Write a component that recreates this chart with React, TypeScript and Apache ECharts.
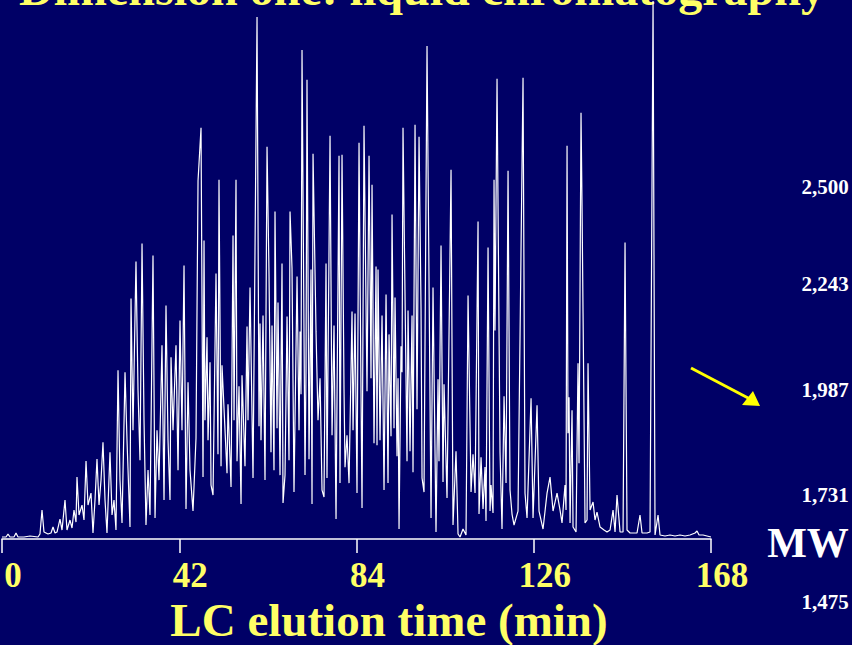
import React, { useEffect, useRef } from "react";
import * as echarts from "echarts";

const FONT = "'Liberation Serif', 'Times New Roman', Times, serif";

const titleText = "Dimension one: liquid chromatography";
const xAxisTitle = "LC elution time (min)";
const timeTicks = [0, 42, 84, 126, 168];
const mwLabels = ["2,500", "2,243", "1,987", "1,731", "1,475"];
const mwUnit = "MW";

// [elution time (min), detector intensity (relative units, 0-540)]
const chromatogram: [number, number][] = [
  [0, 2], [0.95, 2], [1.42, 5], [1.9, 2], [2.84, 2], [3.32, 6], [3.79, 2], [5.21, 2], [6.64, 3], [8.53, 2],
  [9.0, 5], [9.48, 29], [9.95, 7], [10.9, 5], [11.61, 6], [12.09, 12], [12.56, 6], [13.03, 7], [13.74, 20], [14.22, 9],
  [14.93, 39], [15.4, 9], [16.11, 19], [16.59, 11], [17.06, 29], [17.54, 17], [17.77, 62], [18.25, 24], [18.96, 34], [19.43, 19],
  [19.91, 78], [20.38, 34], [21.09, 46], [21.56, 6], [22.04, 39], [22.51, 80], [22.99, 34], [23.46, 59], [23.93, 97], [24.41, 39],
  [24.88, 6], [25.59, 87], [26.07, 24], [26.54, 39], [27.01, 9], [27.49, 169], [27.96, 59], [28.44, 16], [29.15, 167], [29.62, 99],
  [30.33, 12], [30.57, 241], [31.04, 109], [31.75, 278], [32.23, 149], [32.7, 79], [33.18, 296], [33.65, 119], [34.12, 14], [34.6, 69],
  [35.07, 24], [35.78, 284], [36.26, 21], [36.73, 109], [37.2, 59], [37.91, 194], [38.39, 39], [38.86, 234], [39.34, 99], [39.81, 39],
  [40.05, 182], [40.52, 109], [41.23, 194], [41.71, 69], [42.18, 219], [42.65, 109], [43.13, 274], [43.6, 30], [44.08, 157], [44.55, 69],
  [45.26, 28], [45.97, 101], [46.45, 359], [47.16, 412], [47.63, 62], [47.87, 299], [48.1, 119], [48.58, 202], [48.82, 99], [49.29, 177],
  [49.53, 54], [50.0, 44], [50.71, 266], [51.18, 85], [51.42, 360], [51.9, 73], [52.13, 174], [53.32, 66], [53.55, 135], [54.27, 52],
  [54.74, 304], [54.98, 119], [55.45, 360], [55.69, 78], [56.16, 153], [56.64, 35], [56.87, 164], [57.58, 73], [58.06, 213], [58.29, 119],
  [58.77, 252], [59.48, 61], [60.43, 523], [60.9, 113], [61.14, 216], [61.37, 99], [61.85, 224], [62.32, 59], [62.8, 393], [63.27, 265],
  [63.74, 87], [63.98, 214], [64.45, 69], [64.69, 328], [65.17, 111], [65.4, 237], [65.88, 64], [66.35, 276], [66.59, 36], [67.06, 64],
  [67.54, 223], [68.01, 79], [68.25, 328], [68.72, 271], [69.19, 47], [69.91, 263], [70.38, 109], [70.62, 208], [70.85, 145], [71.09, 490],
  [71.8, 64], [72.04, 171], [72.27, 460], [72.75, 80], [73.22, 270], [73.46, 35], [73.7, 386], [74.41, 208], [74.88, 119], [75.36, 161],
  [75.83, 49], [76.3, 42], [76.78, 276], [77.01, 61], [77.73, 404], [78.2, 104], [78.67, 214], [79.15, 20], [79.86, 384], [80.09, 56],
  [80.57, 385], [81.04, 150], [81.28, 72], [81.75, 104], [82.23, 56], [82.94, 228], [83.18, 109], [83.65, 226], [84.12, 46], [84.6, 397],
  [85.07, 146], [85.31, 31], [85.78, 414], [86.49, 148], [86.97, 384], [87.44, 161], [87.68, 355], [88.15, 96], [88.63, 273], [88.86, 94],
  [89.1, 270], [89.57, 99], [90.05, 224], [90.52, 49], [91.0, 245], [91.47, 56], [91.71, 205], [92.18, 103], [92.42, 325], [92.89, 111],
  [93.13, 242], [93.6, 83], [93.84, 161], [94.08, 10], [94.55, 193], [94.79, 167], [95.02, 412], [95.97, 78], [96.21, 229], [96.68, 88],
  [97.16, 224], [97.39, 67], [97.87, 415], [98.34, 130], [98.82, 403], [99.29, 231], [99.53, 61], [100.0, 47], [100.71, 494], [101.66, 21],
  [102.13, 252], [102.84, 7], [103.32, 160], [103.55, 78], [104.03, 294], [104.5, 57], [104.74, 155], [105.45, 41], [106.4, 370], [106.87, 14],
  [107.58, 88], [108.06, 5], [108.53, 2], [109.24, 10], [109.95, 4], [110.43, 244], [111.14, 47], [111.61, 85], [112.09, 46], [112.8, 318],
  [113.03, 25], [113.51, 82], [113.98, 30], [114.45, 72], [114.69, 18], [115.17, 292], [115.64, 28], [115.88, 54], [116.35, 26], [116.59, 360],
  [116.82, 209], [117.3, 461], [117.77, 210], [118.01, 87], [118.48, 10], [118.96, 143], [119.43, 56], [119.91, 369], [120.38, 49], [120.85, 25],
  [121.33, 14], [122.27, 28], [123.46, 462], [123.93, 46], [124.41, 21], [125.36, 141], [125.83, 21], [126.78, 134], [127.25, 28], [128.2, 10],
  [129.15, 46], [129.86, 62], [130.57, 28], [131.52, 46], [132.23, 29], [132.7, 16], [133.41, 54], [133.65, 29], [133.89, 394], [134.12, 106],
  [134.36, 142], [134.6, 16], [135.07, 129], [135.31, 12], [136.02, 7], [136.49, 176], [136.73, 76], [137.2, 427], [137.44, 334], [137.68, 226],
  [138.15, 16], [138.63, 19], [138.86, 176], [139.34, 29], [140.05, 37], [140.52, 19], [140.99, 27], [141.71, 12], [142.65, 9], [143.36, 7],
  [144.08, 9], [144.79, 29], [145.26, 7], [145.73, 44], [146.45, 7], [147.16, 7], [147.63, 297], [148.1, 9], [148.82, 6], [149.53, 6],
  [150.47, 6], [151.18, 24], [151.66, 6], [152.84, 6], [153.55, 7], [154.27, 539], [154.74, 4], [155.45, 24], [155.92, 4], [157.11, 3],
  [158.29, 4], [159.48, 3], [160.66, 4], [161.85, 3], [163.03, 4], [164.22, 6], [164.69, 8], [165.17, 4], [166.11, 4], [167.06, 3],
  [168.0, 2],
];

export default function App() {
  const ref = useRef<HTMLDivElement>(null);
  useEffect(() => {
    if (!ref.current) return;
    const chart = echarts.init(ref.current, null, { renderer: "svg" });
    const mwY = [187, 284, 390, 495, 602];
    const graphic: any[] = [
      {
        type: "text",
        left: 19,
        top: -36,
        style: { text: titleText, fill: "#ffff66", font: `bold 48px ${FONT}` },
      },
      {
        type: "text",
        x: 389,
        y: 620,
        style: {
          text: xAxisTitle,
          fill: "#ffff66",
          font: `bold 47px ${FONT}`,
          align: "center",
          verticalAlign: "middle",
          lineHeight: 44,
        },
      },
      ...mwLabels.map((t, i) => ({
        type: "text",
        x: 825,
        y: mwY[i],
        style: {
          text: t,
          fill: "#ffffff",
          font: `bold 21px ${FONT}`,
          align: "center",
          verticalAlign: "middle",
        },
      })),
      {
        type: "text",
        x: 808,
        y: 543,
        style: {
          text: mwUnit,
          fill: "#ffffff",
          font: `bold 42px ${FONT}`,
          align: "center",
          verticalAlign: "middle",
        },
      },
      {
        type: "line",
        shape: { x1: 691, y1: 368, x2: 750, y2: 399 },
        style: { stroke: "#ffff00", lineWidth: 3 },
      },
      {
        type: "polygon",
        shape: { points: [[760, 406], [742, 405], [753, 391]] },
        style: { fill: "#ffff00" },
      },
    ];
    chart.setOption({
      backgroundColor: "#000066",
      animation: false,
      grid: { left: 2, right: 141, top: 0, bottom: 106, containLabel: false },
      xAxis: {
        type: "value",
        min: 0,
        max: 168,
        interval: 42,
        axisLine: { lineStyle: { color: "#ffffff", width: 1.5 } },
        axisTick: { length: 14, lineStyle: { color: "#ffffff", width: 1.5 } },
        splitLine: { show: false },
        axisLabel: {
          color: "#ffff66",
          fontSize: 35,
          fontWeight: "bold",
          fontFamily: FONT,
          margin: 19,
          padding: [0, 0, 0, 22],
          showMinLabel: true,
          showMaxLabel: true,
        },
      },
      yAxis: { type: "value", min: 0, max: 540, show: false },
      series: [
        {
          type: "line",
          data: chromatogram,
          symbol: "none",
          lineStyle: { color: "#ffffff", width: 1.2 },
          clip: true,
        },
      ],
      graphic,
    });
    return () => chart.dispose();
  }, []);
  return (
    <div
      ref={ref}
      style={{ position: "fixed", left: 0, top: 0, width: 852, height: 645, background: "#000066" }}
    />
  );
}
